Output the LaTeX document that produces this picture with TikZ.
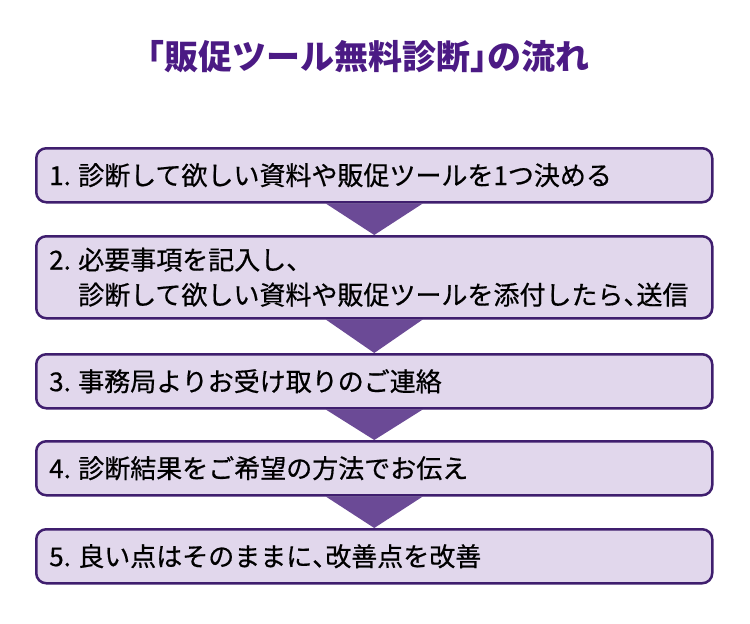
\documentclass[tikz,border=0pt]{standalone}
\usepackage{fontspec}
\newfontfamily\jp{Noto Sans CJK JP}
\newfontfamily\jpm[FakeBold=0.6]{Noto Sans CJK JP}
\usetikzlibrary{calc,backgrounds}
\definecolor{boxline}{HTML}{3F1E6E}
\definecolor{boxfill}{HTML}{E1D7EC}
\definecolor{arrowfill}{HTML}{6B4A96}
\definecolor{titlecol}{HTML}{4B1A84}
\newcommand\hcm{\makebox[0.5em][l]{、}}
\newcommand\lbrk{\makebox[0.5em][r]{「}}
\newcommand\rbrk{\makebox[0.5em][l]{」}}
\newcommand\num[1]{\makebox[29pt][l]{#1}}
\tikzset{
  stepbox/.style={draw=boxline, line width=2.5pt, fill=boxfill, rounded corners=10pt,
    anchor=north west, minimum width=676pt, inner xsep=13pt, inner ysep=0pt,
    text width=650pt, align=left, font=\jpm\fontsize{26}{35}\selectfont, text=black},
  downarrow/.style={fill=arrowfill, draw=none}
}
\begin{document}
\begin{tikzpicture}[x=1pt,y=-1pt]
\useasboundingbox (0,0) rectangle (750,624);
\node[font=\jp\bfseries\fontsize{34}{40}\selectfont, text=titlecol] (title) at (368,57) {\lbrk 販促ツール無料診断\rbrk の流れ};
\node[stepbox, minimum height=54pt] (b1) at (35,147) {\num{1.}診断して欲しい資料や販促ツールを1つ決める};
\node[stepbox, minimum height=82pt] (b2) at (35,235) {\num{2.}必要事項を記入し\hcm\\\num{}診断して欲しい資料や販促ツールを添付したら\hcm 送信};
\node[stepbox, minimum height=54pt] (b3) at (35,353) {\num{3.}事務局よりお受け取りのご連絡};
\node[stepbox, minimum height=54pt] (b4) at (35,440) {\num{4.}診断結果をご希望の方法でお伝え};
\node[stepbox, minimum height=54pt] (b5) at (35,528) {\num{5.}良い点はそのままに\hcm 改善点を改善};
\begin{pgfonlayer}{background}
\foreach \a/\b in {b1/b2,b2/b3,b3/b4,b4/b5}{
  \fill[downarrow] ($(\a.south)+(-48.5,0)$) -- ($(\a.south)+(48.5,0)$) -- (\b.north) -- cycle;
}
\end{pgfonlayer}
\end{tikzpicture}
\end{document}
